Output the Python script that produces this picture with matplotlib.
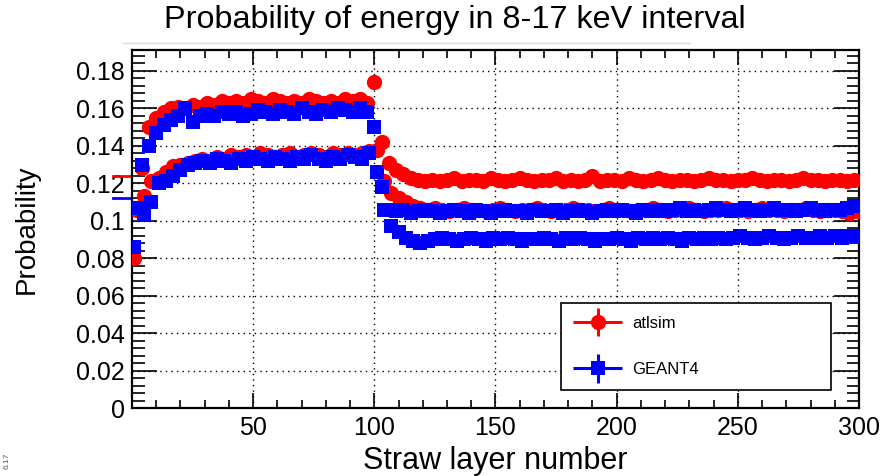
import numpy as np
import matplotlib.pyplot as plt
from matplotlib.ticker import MultipleLocator
from matplotlib.lines import Line2D
from matplotlib.container import ErrorbarContainer
from matplotlib.legend_handler import HandlerErrorbar

plt.rcParams['font.family'] = ['Liberation Sans', 'DejaVu Sans']

# straw layers: the two branches of each simulation sit on alternating layers
layers_a = np.arange(1, 300, 3)
layers_b = np.arange(2, 301, 3)

atlsim_a = [0.080, 0.128, 0.150, 0.155, 0.158, 0.160, 0.161, 0.160, 0.162, 0.161,
            0.163, 0.162, 0.164, 0.163, 0.164, 0.163, 0.165, 0.164, 0.163, 0.165,
            0.164, 0.163, 0.164, 0.163, 0.165, 0.164, 0.163, 0.164, 0.163, 0.165,
            0.164, 0.165, 0.163, 0.174, 0.142, 0.131, 0.127, 0.125, 0.123, 0.122,
            0.121,
            0.122, 0.121, 0.122, 0.123, 0.121, 0.122, 0.122, 0.121, 0.123, 0.122,
            0.121, 0.122, 0.123, 0.122, 0.121, 0.122, 0.122, 0.123, 0.121, 0.122,
            0.121, 0.122, 0.124, 0.121, 0.122, 0.122, 0.121, 0.123, 0.122, 0.121,
            0.122, 0.123, 0.122, 0.121, 0.122, 0.122, 0.121, 0.122, 0.123, 0.122,
            0.122, 0.121, 0.122, 0.122, 0.123, 0.122, 0.121, 0.122, 0.122, 0.121,
            0.122, 0.123, 0.122, 0.122, 0.121, 0.122, 0.122, 0.121, 0.122]

atlsim_b = [0.106, 0.113, 0.121, 0.123, 0.126, 0.129, 0.130, 0.131, 0.132, 0.133,
            0.132, 0.134, 0.133, 0.135, 0.134, 0.135, 0.134, 0.136, 0.135, 0.134,
            0.135, 0.136, 0.134, 0.135, 0.136, 0.135, 0.134, 0.136, 0.135, 0.136,
            0.135, 0.136, 0.137, 0.138, 0.121, 0.115, 0.112, 0.110, 0.108, 0.107,
            0.106, 0.107, 0.106, 0.105, 0.106, 0.107, 0.106, 0.106, 0.105, 0.106,
            0.107, 0.106, 0.105, 0.106, 0.106, 0.107, 0.106, 0.105, 0.106, 0.106,
            0.107, 0.106, 0.106, 0.105, 0.106, 0.107, 0.106, 0.106, 0.105, 0.106,
            0.106, 0.107, 0.106, 0.105, 0.106, 0.106, 0.107, 0.106, 0.105, 0.106,
            0.106, 0.107, 0.106, 0.106, 0.105, 0.106, 0.107, 0.106, 0.106, 0.105,
            0.106, 0.106, 0.107, 0.106, 0.105, 0.106, 0.106, 0.105, 0.104, 0.105]

geant4_a = [0.086, 0.130, 0.140, 0.147, 0.151, 0.154, 0.156, 0.160, 0.153, 0.156,
            0.157, 0.156, 0.158, 0.157, 0.158, 0.156, 0.157, 0.159, 0.158, 0.157,
            0.159, 0.158, 0.157, 0.160, 0.158, 0.157, 0.159, 0.158, 0.160, 0.159,
            0.158, 0.160, 0.158, 0.150, 0.118, 0.106, 0.105,
            0.106, 0.104, 0.105, 0.106, 0.105, 0.104, 0.105, 0.106, 0.105, 0.104,
            0.106, 0.105, 0.104, 0.105, 0.106, 0.105, 0.105, 0.104, 0.106, 0.105,
            0.105, 0.106, 0.104, 0.105, 0.106, 0.105, 0.104, 0.105, 0.106, 0.105,
            0.106, 0.105, 0.104, 0.106, 0.105, 0.106, 0.105, 0.106, 0.107, 0.105,
            0.106, 0.105, 0.106, 0.107, 0.106, 0.105, 0.106, 0.107, 0.106, 0.105,
            0.106, 0.107, 0.106, 0.106, 0.105, 0.106, 0.107, 0.106, 0.105, 0.106,
            0.106, 0.107, 0.108]

geant4_b = [0.107, 0.103, 0.110, 0.120, 0.121, 0.124, 0.127, 0.130, 0.131, 0.132,
            0.131, 0.133, 0.132, 0.131, 0.133, 0.132, 0.134, 0.133, 0.132, 0.134,
            0.133, 0.132, 0.134, 0.133, 0.135, 0.133, 0.132, 0.134, 0.133, 0.135,
            0.134, 0.133, 0.136, 0.126, 0.106, 0.097, 0.094, 0.091, 0.089, 0.088,
            0.089, 0.090, 0.091, 0.090, 0.089, 0.090, 0.091, 0.090, 0.089, 0.091,
            0.090, 0.091, 0.090, 0.089, 0.090, 0.090, 0.091, 0.090, 0.089, 0.091,
            0.090, 0.091, 0.090, 0.089, 0.090, 0.090, 0.091, 0.090, 0.089, 0.091,
            0.090, 0.091, 0.090, 0.091, 0.090, 0.089, 0.091, 0.090, 0.091, 0.090,
            0.091, 0.090, 0.091, 0.092, 0.091, 0.090, 0.091, 0.092, 0.091, 0.090,
            0.091, 0.092, 0.091, 0.091, 0.092, 0.091, 0.092, 0.091, 0.092, 0.092]

# overall values drawn just left of the frame (bar only, outside the axis)
overall_atlsim = 0.124
overall_geant4 = 0.112

fig = plt.figure(figsize=(8.93, 4.76), dpi=100)
ax = fig.add_axes([132 / 893, 1 - 408 / 476, (859 - 132) / 893, (408 - 50) / 476])

x_all = np.concatenate([layers_a, layers_b])
ax.errorbar(x_all, atlsim_a + atlsim_b, xerr=0, yerr=0, fmt='o', color='red',
            ms=11, mew=0, elinewidth=2.2, label='atlsim', zorder=3)
ax.errorbar(x_all, geant4_a + geant4_b, xerr=0, yerr=0, fmt='s', color='blue',
            ms=10, mew=0, elinewidth=2.2, label='GEANT4', zorder=4)

ax.plot([-8, -0.5], [overall_atlsim] * 2, color='red', lw=2, clip_on=False)
ax.plot([-8, -0.5], [overall_geant4] * 2, color='blue', lw=2, clip_on=False)

ax.set_xlim(0, 300)
ax.set_ylim(0, 0.1912)
ax.xaxis.set_minor_locator(MultipleLocator(10))
ax.yaxis.set_minor_locator(MultipleLocator(0.004))
ax.set_xticks([50, 100, 150, 200, 250, 300])
ax.set_yticks(np.arange(0, 0.19, 0.02))
ax.set_yticklabels(['0', '0.02', '0.04', '0.06', '0.08', '0.1', '0.12', '0.14', '0.16', '0.18'])

ax.tick_params(which='both', direction='in', top=True, right=True, labelsize=18, width=1.2)
ax.tick_params(which='major', axis='y', length=18, pad=5)
ax.tick_params(which='minor', axis='y', length=9)
ax.tick_params(which='major', axis='x', length=11, pad=6)
ax.tick_params(which='minor', axis='x', length=6)
ax.grid(True, which='major', color='black', linestyle=(0, (1, 3)), lw=1)
for s in ax.spines.values():
    s.set_linewidth(1.6)

ax.set_xlabel('Straw layer number', fontsize=22, labelpad=4)
ax.set_ylabel('Probability', fontsize=20, labelpad=26)
fig.text(0.509, 0.957, 'Probability of energy in 8-17 keV interval', fontsize=23.3,
         ha='center', va='center')
fig.add_artist(Line2D([123 / 893, 690 / 893], [1 - 43 / 476] * 2, color='#dddddd', lw=1))
fig.text(0.004, 0.018, '6.17', fontsize=6, rotation=90, color='#555555')

leg = ax.legend(loc='center left', bbox_to_anchor=(0.59, 0.042, 0.372, 0.26), mode='expand',
                fontsize=12, frameon=True, fancybox=False, framealpha=1, edgecolor='black',
                handlelength=2.9, handletextpad=0.65, labelspacing=1.9, borderpad=0.75,
                borderaxespad=0,
                handler_map={ErrorbarContainer: HandlerErrorbar(xerr_size=1.45, yerr_size=0.85)})
leg.get_frame().set_linewidth(1.2)

fig.savefig('out.png', dpi=100)
